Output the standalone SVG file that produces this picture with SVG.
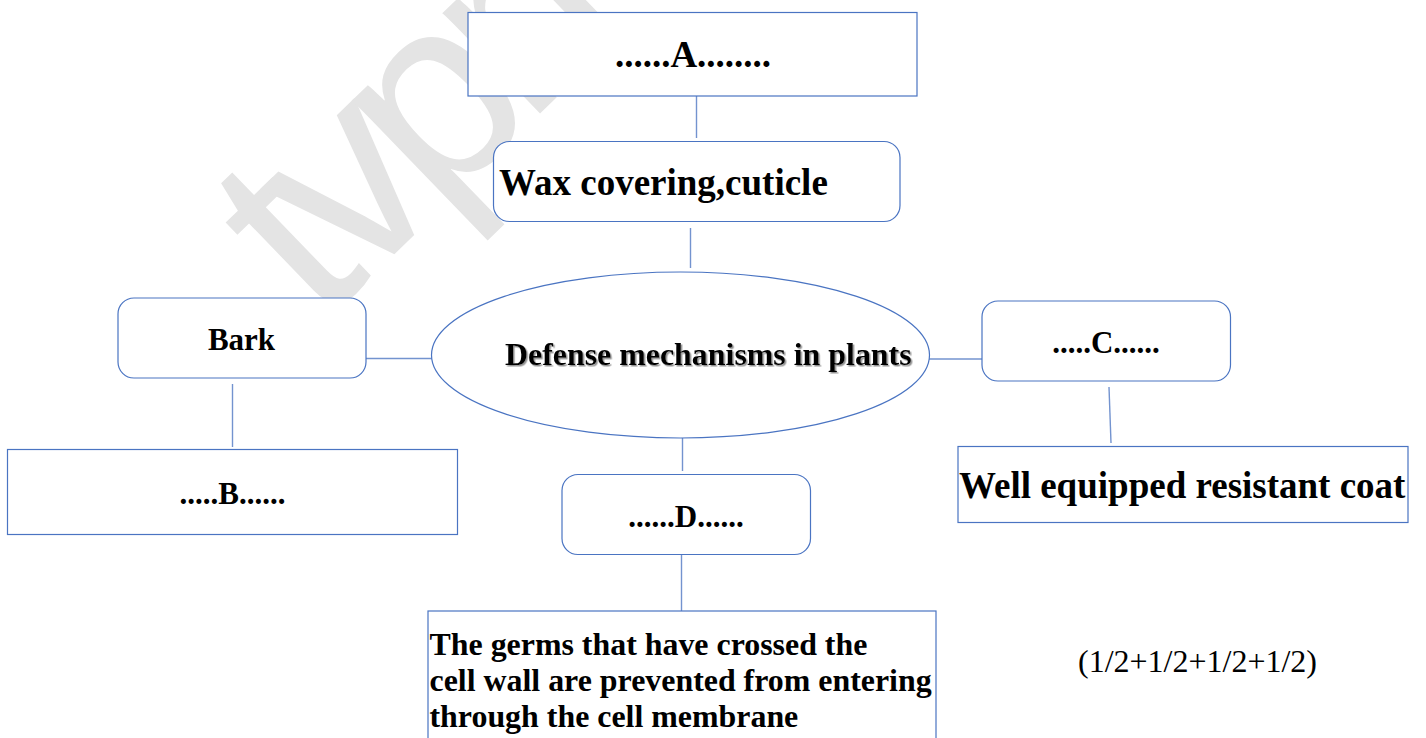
<svg xmlns="http://www.w3.org/2000/svg" width="1426" height="738" viewBox="0 0 1426 738">
  <defs>
    <style>
      .box { fill: #ffffff; stroke: #4a74c2; stroke-width: 1.2; }
      .conn { stroke: #7393cf; stroke-width: 1.4; fill: none; }
      .lbl { font-family: "Liberation Serif", "Times New Roman", serif; font-weight: bold; fill: #000000; }
      .plain { font-family: "Liberation Serif", "Times New Roman", serif; fill: #000000; }
      .wm { font-family: "Liberation Sans", Arial, sans-serif; fill: #e4e4e4; }
    </style>
    <filter id="shadow" x="-5%" y="-20%" width="110%" height="150%">
      <feDropShadow dx="1.5" dy="1.5" stdDeviation="0.6" flood-color="#777777" flood-opacity="0.8"/>
    </filter>
  </defs>
  <rect width="1426" height="738" fill="#ffffff"/>

  <text class="wm" font-size="265" letter-spacing="-22" transform="translate(320,326) rotate(-44)">tvpn</text>

  <g id="connectors">
    <line class="conn" x1="696.5" y1="96" x2="696.5" y2="138"/>
    <line class="conn" x1="690.5" y1="228" x2="690.5" y2="268"/>
    <line class="conn" x1="366" y1="358.5" x2="432" y2="358.5"/>
    <line class="conn" x1="232.5" y1="384" x2="232.5" y2="447"/>
    <line class="conn" x1="929" y1="359" x2="982" y2="359"/>
    <line class="conn" x1="1109" y1="387" x2="1111" y2="443"/>
    <line class="conn" x1="682.5" y1="438" x2="682.5" y2="471"/>
    <line class="conn" x1="681.5" y1="555" x2="681.5" y2="611"/>
  </g>

  <g id="node-a">
    <rect class="box" x="468" y="12.5" width="449" height="83.5"/>
    <text class="lbl" x="693" y="67" font-size="37" text-anchor="middle">......A........</text>
  </g>

  <g id="node-wax">
    <rect class="box" x="493.5" y="141.5" width="406.5" height="80" rx="16"/>
    <text class="lbl" x="499" y="195" font-size="37">Wax covering,cuticle</text>
  </g>

  <g id="node-center">
    <ellipse class="box" cx="680.5" cy="355" rx="249" ry="83"/>
    <text class="lbl" x="505" y="365" font-size="31.9" filter="url(#shadow)">Defense mechanisms in plants</text>
  </g>

  <g id="node-bark">
    <rect class="box" x="118" y="298" width="248" height="80" rx="16"/>
    <text class="lbl" x="241.5" y="350" font-size="31" text-anchor="middle">Bark</text>
  </g>

  <g id="node-b">
    <rect class="box" x="7.5" y="449.5" width="450" height="85"/>
    <text class="lbl" x="232.5" y="504" font-size="31" text-anchor="middle">.....B......</text>
  </g>

  <g id="node-c">
    <rect class="box" x="982" y="301" width="248.5" height="80" rx="16"/>
    <text class="lbl" x="1106" y="353" font-size="31" text-anchor="middle">.....C......</text>
  </g>

  <g id="node-well">
    <rect class="box" x="958" y="446.5" width="450" height="76"/>
    <text class="lbl" x="959" y="498" font-size="37">Well equipped resistant coat</text>
  </g>

  <g id="node-d">
    <rect class="box" x="562" y="474.5" width="248.5" height="80" rx="16"/>
    <text class="lbl" x="686" y="527" font-size="31" text-anchor="middle">......D......</text>
  </g>

  <g id="node-germs">
    <rect class="box" x="428" y="611" width="508" height="140"/>
    <text class="lbl" font-size="31.9">
      <tspan x="429.5" y="655">The germs that have crossed the</tspan>
      <tspan x="429.5" y="691">cell wall are prevented from entering</tspan>
      <tspan x="429.5" y="727">through the cell membrane</tspan>
    </text>
  </g>

  <g id="marks">
    <text class="plain" x="1078" y="671.5" font-size="32">(1/2+1/2+1/2+1/2)</text>
  </g>
</svg>
